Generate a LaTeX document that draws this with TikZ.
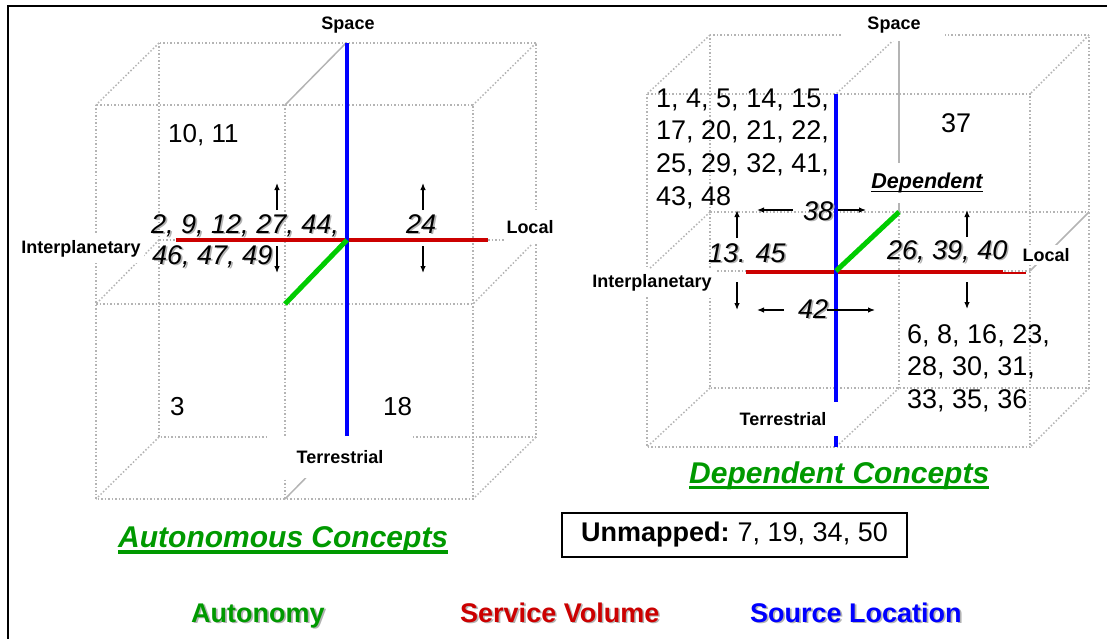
\documentclass[tikz,border=0pt]{standalone}
\usepackage{fontspec}
\setmainfont{Liberation Sans}
\usetikzlibrary{arrows.meta}
\definecolor{axisred}{RGB}{204,0,0}
\definecolor{axisblue}{RGB}{0,0,255}
\definecolor{axisgreen}{RGB}{0,204,0}
\definecolor{txtgreen}{RGB}{0,153,0}
\definecolor{gridgray}{RGB}{180,180,180}
\newcommand\shd[1]{\rlap{\textcolor{black!30}{\kern1.6pt\raisebox{-1.6pt}{#1}}}#1}
\newcommand\ulbox[3]{\setbox0\hbox{#3}\rlap{\rule[-#1]{\wd0}{#2}}\box0}
\tikzset{
	cubeline/.style={gridgray, line width=1.5pt, dash pattern=on 1.5pt off 2pt},
	cubesolid/.style={gridgray, line width=1.5pt},
	axislbl/.style={fill=white, inner sep=3pt, font=\bfseries\fontsize{18}{20}\selectfont},
	numlbl/.style={inner sep=0pt, font=\fontsize{26}{33}\selectfont},
	itnum/.style={inner sep=0pt, font=\itshape\fontsize{27}{31}\selectfont},
	legend/.style={inner sep=0pt, font=\bfseries\fontsize{27}{30}\selectfont},
	arr/.style={line width=1.2pt, -{Latex[length=7pt,width=5.5pt]}}
}

\begin{document}
\begin{tikzpicture}[x=1pt,y=-1pt]
			%%%%% START %%%%%
			\useasboundingbox (0,0) rectangle (1107,639);
			\draw[line width=2.3pt] (7.8,660) -- (7.8,6.3) -- (1120,6.3);
			
			%%%%% autonomous cube %%%%%
			\draw[cubeline] (159,43) rectangle (536,437);
			\draw[cubeline] (159,240) -- (536,240);
			\draw[cubeline] (96,105) rectangle (473,499);
			\draw[cubeline] (285,105) -- (285,499);
			\draw[cubeline] (96,304) -- (473,304);
			\draw[cubeline] (159,43) -- (96,105);
			\draw[cubeline] (536,43) -- (473,105);
			\draw[cubeline] (159,240) -- (96,304);
			\draw[cubeline] (536,240) -- (473,304);
			\draw[cubeline] (159,437) -- (96,499);
			\draw[cubeline] (536,437) -- (473,499);
			\draw[cubesolid] (346,43) -- (285,105);
			\draw[cubesolid] (346,437) -- (285,499);
			
			\draw[line width=4pt, axisred] (176,240) -- (488,240);
			\draw[line width=4pt, axisblue] (347,43) -- (347,437);
			\draw[line width=5pt, axisgreen] (347,240) -- (285,304);
			
			\node[axislbl] (spaceA) at (348,25) {Space};
			\node[axislbl, inner ysep=10pt] (localA) at (530,227) {Local};
			\node[axislbl, inner ysep=6pt] (interA) at (81,249) {Interplanetary};
			\node[axislbl, inner xsep=30pt, inner ysep=14pt] (terrA) at (340,457) {Terrestrial};
			
			\node[numlbl, anchor=base west] (n1011) at (168,143) {10, 11};
			\node[numlbl, anchor=base west] (n3) at (170,415) {3};
			\node[numlbl, anchor=base west] (n18) at (383,415) {18};
			\node[itnum, anchor=base west] (n24) at (406,233) {\shd{24}};
			\node[itnum, anchor=base west] (n2a) at (151,233) {\shd{2, 9, 12, 27, 44,}};
			\node[itnum, anchor=base west] (n2b) at (152,264) {\shd{46, 47, 49}};
			
			\draw[arr] (277,210) -- (277,183);
			\draw[arr] (277,246) -- (277,273);
			\draw[arr] (423,210) -- (423,183);
			\draw[arr] (423,246) -- (423,273);
			
			%%%%% dependent cube %%%%%
			\draw[cubeline] (710,35) rectangle (1089,388);
			\draw[cubeline] (710,212) -- (1089,212);
			\draw[cubesolid] (899,35) -- (899,212);
			\draw[cubeline] (899,212) -- (899,388);
			\draw[cubeline] (647,94) rectangle (1030,447);
			\draw[cubeline] (647,271) -- (1030,271);
			\draw[cubeline] (710,35) -- (647,94);
			\draw[cubeline] (899,35) -- (836,94);
			\draw[cubeline] (1089,35) -- (1030,94);
			\draw[cubeline] (710,212) -- (647,271);
			\draw[cubesolid] (1089,212) -- (1030,271);
			\draw[cubeline] (710,388) -- (647,447);
			\draw[cubeline] (899,388) -- (836,447);
			\draw[cubeline] (1089,388) -- (1030,447);
			
			\draw[line width=4pt, axisred] (746,272) -- (1003,272);
			\draw[line width=2pt, axisred] (1003,273) -- (1026,273);
			\draw[line width=4.5pt, axisblue] (836,94) -- (836,447);
			\draw[line width=5pt, axisgreen] (836,271) -- (899,212);
			
			\node[axislbl, inner xsep=24pt, inner ysep=8pt] (spaceD) at (894,25) {Space};
			\node[axislbl] (localD) at (1046,255) {Local};
			\node[axislbl, inner ysep=6pt] (interD) at (652,283) {Interplanetary};
			\node[axislbl, inner xsep=13pt, inner ysep=10pt] (terrD) at (783,419) {Terrestrial};
			\node[axislbl, inner ysep=10pt, font=\bfseries\itshape\fontsize{21.5}{24}\selectfont] (depD) at (927,183) {\ulbox{3.5pt}{1.5pt}{Dependent}};
			
			\node[numlbl, anchor=base west, align=left, font=\fontsize{27}{32.8}\selectfont] (blockTL) at (656,205.4) {1, 4, 5, 14, 15,\\17, 20, 21, 22,\\25, 29, 32, 41,\\43, 48};
			\node[numlbl, anchor=base west, align=left, font=\fontsize{27}{32.5}\selectfont] (blockBR) at (907,408) {6, 8, 16, 23,\\28, 30, 31,\\33, 35, 36};
			\node[numlbl, anchor=base west, font=\fontsize{27}{33}\selectfont] (n37) at (941,133) {37};
			\node[itnum, anchor=base west] (n38) at (803,220) {\shd{38}};
			\node[itnum, anchor=base west] (n13) at (708,262) {\shd{13. 45}};
			\node[itnum, anchor=base west] (n26) at (887,259) {\shd{26, 39, 40}};
			\node[itnum, anchor=base west] (n42) at (798,318) {\shd{42}};
			
			\draw[arr] (793,210) -- (757,210);
			\draw[arr] (838,210) -- (866,210);
			\draw[arr] (737,238) -- (737,210);
			\draw[arr] (737,282) -- (737,310);
			\draw[arr] (967,237) -- (967,210);
			\draw[arr] (967,282) -- (967,309);
			\draw[arr] (784,310) -- (757,310);
			\draw[arr] (827,310) -- (875,310);
			
			%%%%% titles and legend %%%%%
			\node[legend, txtgreen, anchor=base west, font=\bfseries\itshape\fontsize{30}{32}\selectfont] (titleA) at (118,547) {\ulbox{6.8pt}{3.5pt}{Autonomous Concepts}};
			\node[legend, txtgreen, anchor=base west, font=\bfseries\itshape\fontsize{30}{32}\selectfont] (titleD) at (689,483) {\ulbox{6pt}{3.5pt}{Dependent Concepts}};
			\node[draw, line width=1.2pt, minimum width=345pt, minimum height=44pt, inner sep=0pt, font=\fontsize{27}{29}\selectfont] (unmapped) at (734.5,535) {\textbf{Unmapped:}\hspace{8pt}7, 19, 34, 50};
			
			\node[legend, txtgreen, anchor=base west] (legAuto) at (191,622) {\shd{Autonomy}};
			\node[legend, axisred, anchor=base west] (legServ) at (460,622) {\shd{Service Volume}};
			\node[legend, axisblue, anchor=base west] (legSrc) at (750,622) {\shd{Source Location}};
			%%%%% END %%%%%
\end{tikzpicture}
\end{document}
